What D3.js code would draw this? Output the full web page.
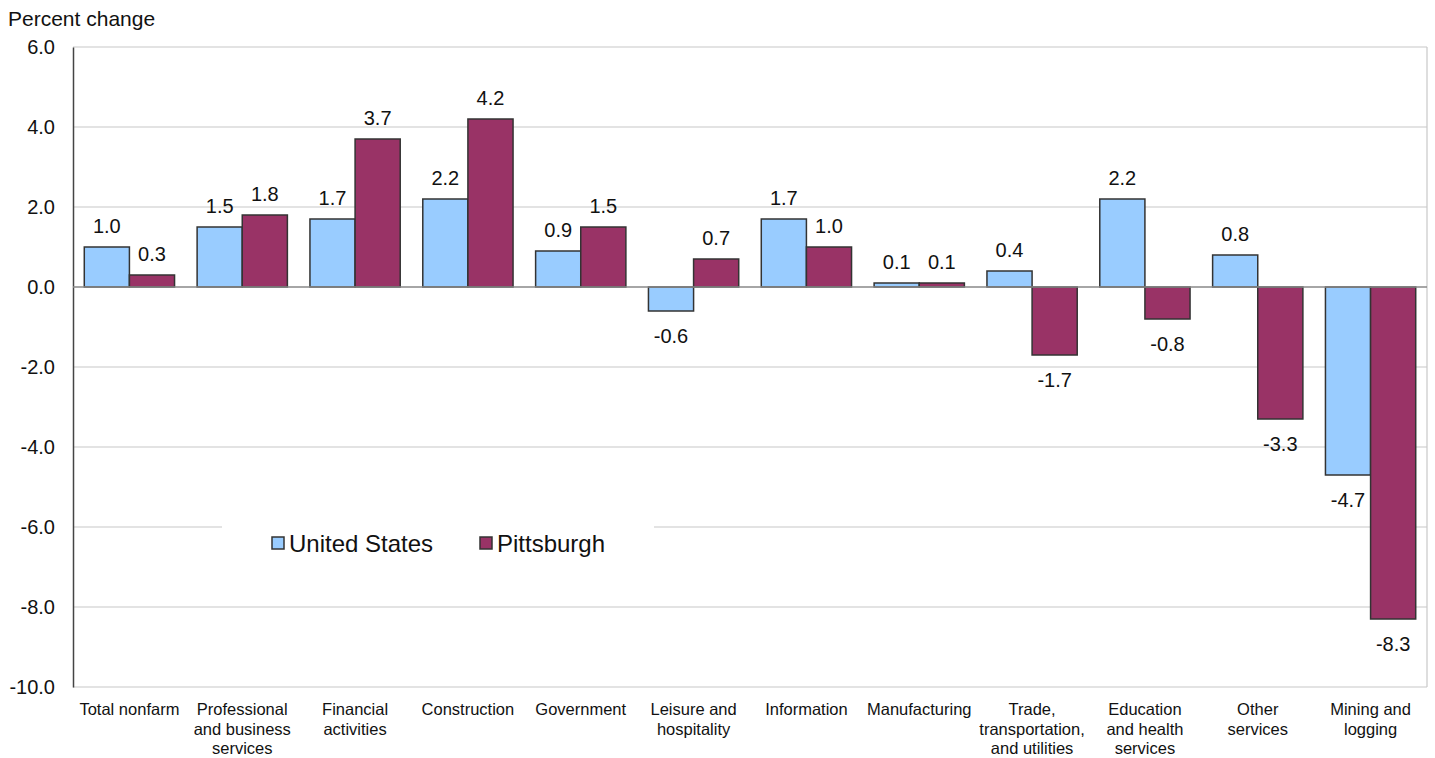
<!DOCTYPE html>
<html><head><meta charset="utf-8">
<script src="https://cdn.jsdelivr.net/npm/d3@7"></script>
<style>body{margin:0;background:#fff}svg{display:block;font-family:Arial,"Liberation Sans",sans-serif}</style>
</head><body><svg id="c" width="1435" height="758"></svg>
<script>
const categories = [["Total nonfarm"],["Professional","and business","services"],["Financial","activities"],["Construction"],["Government"],["Leisure and","hospitality"],["Information"],["Manufacturing"],["Trade,","transportation,","and utilities"],["Education","and health","services"],["Other","services"],["Mining and","logging"]];
const usValues = [1.0,1.5,1.7,2.2,0.9,-0.6,1.7,0.1,0.4,2.2,0.8,-4.7];
const pittValues = [0.3,1.8,3.7,4.2,1.5,0.7,1.0,0.1,-1.7,-0.8,-3.3,-8.3];
const yTicks = [6,4,2,0,-2,-4,-6,-8,-10];
const seriesNames = ["United States","Pittsburgh"];
const colors = ["#99ccff","#993366"];

const fmt = v => d3.format(".1f")(v).replace("\u2212","-");
const svg = d3.select("#c");
const L=73,R=1427,T=47,B=687;
const x = d3.scaleBand().domain(d3.range(categories.length)).range([L,R]).paddingInner(0.2).paddingOuter(0.1);
const y = d3.scaleLinear().domain([-10,6]).range([B,T]);

// gridlines
svg.append("g").selectAll("line").data(yTicks.filter(d=>d!==0)).join("line")
  .attr("x1",L).attr("x2",R).attr("y1",d=>y(d)).attr("y2",d=>y(d))
  .attr("stroke","#c8c8c8").attr("stroke-width",1.2);
// right border
svg.append("line").attr("x1",R).attr("x2",R).attr("y1",T).attr("y2",B).attr("stroke","#c8c8c8").attr("stroke-width",1.2);

// legend backdrop
svg.append("rect").attr("x",222).attr("y",y(-6)-14).attr("width",432).attr("height",30).attr("fill","#fff");

// y axis
const yAxis = d3.axisLeft(y).tickValues(yTicks).tickFormat(fmt).tickSize(0).tickPadding(18);
const ga = svg.append("g").attr("transform",`translate(${L},0)`).call(yAxis);
ga.select(".domain").attr("stroke","#444").attr("stroke-width",1.5);
ga.selectAll("text").attr("font-size",20).attr("fill","#111").attr("font-family","Arial,'Liberation Sans',sans-serif");

const x1 = d3.scaleBand().domain([0,1]).range([0,x.bandwidth()]);
const data = categories.map((c,i)=>({i,vals:[usValues[i],pittValues[i]]}));
const g = svg.append("g").selectAll("g").data(data).join("g").attr("transform",d=>`translate(${x(d.i)},0)`);
g.selectAll("rect").data(d=>d.vals.map((v,k)=>({v,k}))).join("rect")
  .attr("x",d=>x1(d.k)).attr("width",x1.bandwidth())
  .attr("y",d=>y(Math.max(0,d.v))).attr("height",d=>Math.abs(y(d.v)-y(0)))
  .attr("fill",d=>colors[d.k]).attr("stroke","#333").attr("stroke-width",1.5);
g.selectAll("text.v").data(d=>d.vals.map((v,k)=>({v,k}))).join("text").attr("class","v")
  .attr("x",d=>x1(d.k)+x1.bandwidth()/2)
  .attr("y",d=>d.v>=0? y(d.v)-14 : y(d.v)+32)
  .attr("text-anchor","middle").attr("font-size",20).attr("fill","#111")
  .text(d=>fmt(d.v));

// zero line
svg.append("line").attr("x1",L).attr("x2",R).attr("y1",y(0)).attr("y2",y(0)).attr("stroke","#888").attr("stroke-width",1.5);

// category labels
const cl = svg.append("g").selectAll("text").data(categories).join("text")
  .attr("x",(d,i)=>x(i)+x.bandwidth()/2).attr("y",715).attr("text-anchor","middle")
  .attr("font-size",16.5).attr("fill","#111");
cl.selectAll("tspan").data(d=>d).join("tspan").attr("x",function(){return this.parentNode.getAttribute("x");})
  .attr("dy",(d,i)=>i===0?0:19.5).text(d=>d);

// title
svg.append("text").attr("x",8).attr("y",26).attr("font-size",21).attr("fill","#111").text("Percent change");

// legend
const leg = svg.append("g");
const lx=[272,480];
seriesNames.forEach((n,k)=>{
  leg.append("rect").attr("x",lx[k]).attr("y",537).attr("width",12).attr("height",12).attr("fill",colors[k]).attr("stroke","#333").attr("stroke-width",1.5);
  leg.append("text").attr("x",lx[k]+17).attr("y",552).attr("font-size",24).attr("fill","#111").text(n);
});
</script></body></html>
